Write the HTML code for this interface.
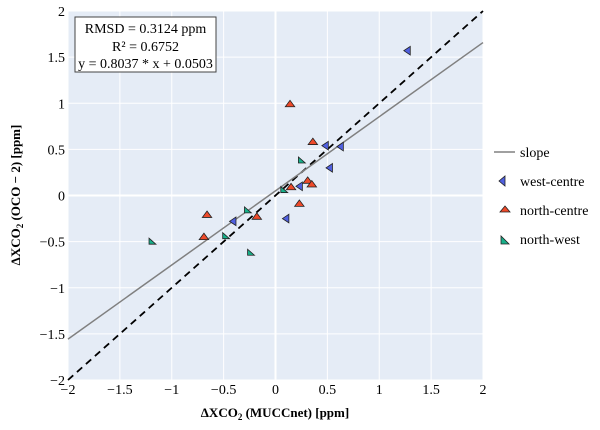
<!DOCTYPE html>
<html><head><meta charset="utf-8"><style>
body{margin:0;background:#fff}
svg{display:block}
svg text{font-family:"Liberation Serif",serif}
</style></head><body>
<svg id="c" width="600" height="430" font-family="Liberation Serif, serif">
<g id="marks"></g>
<g>
<rect x="75" y="17" width="141" height="55" fill="#fff" stroke="#444" stroke-width="1"/>
<text x="145.5" y="33" text-anchor="middle" font-size="14">RMSD = 0.3124 ppm</text>
<text x="145.5" y="51" text-anchor="middle" font-size="14">R² = 0.6752</text>
<text x="145.5" y="68" text-anchor="middle" font-size="14">y = 0.8037 * x + 0.0503</text>
</g>
<g font-size="14">
<g><line x1="494" x2="515" y1="152" y2="152" stroke="#808080" stroke-width="1.5"/><text x="520" y="157">slope</text></g>
<g><polygon points="505,176 505,186 499,181" fill="#5060e0" stroke="#222" stroke-width="0.8"/><text x="520" y="186">west-centre</text></g>
<g><polygon points="505,206 510,212 500,212" fill="#ee4a2a" stroke="#222" stroke-width="0.8"/><text x="520" y="215">north-centre</text></g>
<g><polygon points="501,236 501,244 509,244" fill="#18b08a" stroke="#222" stroke-width="0.8"/><text x="520" y="244">north-west</text></g>
</g>
<text x="275" y="417" text-anchor="middle" font-size="13" font-weight="bold">ΔXCO<tspan font-size="9" dy="3">2</tspan><tspan dy="-3"> (MUCCnet)  [ppm]</tspan></text>
<text transform="translate(20,195) rotate(-90)" text-anchor="middle" font-size="13" font-weight="bold">ΔXCO<tspan font-size="9" dy="3">2</tspan><tspan dy="-3"> (OCO − 2)  [ppm]</tspan></text>
</svg>
<script>
const xTicks=[-2,-1.5,-1,-0.5,0,0.5,1,1.5,2];
const yTicks=[-2,-1.5,-1,-0.5,0,0.5,1,1.5,2];
const tickLabels=["−2","−1.5","−1","−0.5","0","0.5","1","1.5","2"];
const westX=[1.27,0.48,0.625,0.52,0.23,0.10,-0.41];
const westY=[1.57,0.54,0.53,0.30,0.10,-0.25,-0.28];
const northCX=[0.14,0.36,0.31,0.35,0.15,0.23,-0.18,-0.66,-0.69];
const northCY=[0.99,0.58,0.16,0.12,0.09,-0.09,-0.23,-0.21,-0.45];
const northWX=[-1.19,-0.48,-0.27,-0.24,0.08,0.25];
const northWY=[-0.50,-0.44,-0.16,-0.62,0.06,0.38];
const slope=[0.8037], intercept=[0.0503];
const L=68,R=483,T=11,B=380;
const X=v=>L+(v+2)/4*(R-L), Y=v=>B-(v+2)/4*(B-T);
const ns="http://www.w3.org/2000/svg", g=document.getElementById('marks');
function mk(t,a){const e=document.createElementNS(ns,t);for(const k in a)e.setAttribute(k,a[k]);g.appendChild(e);return e;}
const bg=mk('rect',{x:L,y:T,width:R-L,height:B-T,fill:'#e5ecf6'});


xTicks.forEach((v,i)=>{const l=mk('line',{x1:X(v),x2:X(v),y1:T,y2:B,stroke:'#fff','stroke-width':v===0?2:1});


const t=mk('text',{x:X(v),y:B+14,'text-anchor':'middle','font-size':14});t.textContent=tickLabels[i];

});
yTicks.forEach((v,i)=>{const l=mk('line',{x1:L,x2:R,y1:Y(v),y2:Y(v),stroke:'#fff','stroke-width':v===0?2:1});


const t=mk('text',{x:L-3,y:Y(v)+5,'text-anchor':'end','font-size':14});t.textContent=tickLabels[i];

});
const d=mk('line',{x1:X(-2),y1:Y(-2),x2:X(2),y2:Y(2),stroke:'#000','stroke-width':1.8,'stroke-dasharray':'7,5'});


const s=mk('line',{x1:X(-2),y1:Y(-2*slope[0]+intercept[0]),x2:X(2),y2:Y(2*slope[0]+intercept[0]),stroke:'#808080','stroke-width':1.5});


function marker(cx,cy,kind,col){const r=4.3;let p;
if(kind==='left')p=[[cx+r*0.7,cy-r],[cx+r*0.7,cy+r],[cx-r*0.8,cy]];
else if(kind==='up')p=[[cx,cy-r*0.9],[cx+r*1.1,cy+r*0.6],[cx-r*1.1,cy+r*0.6]];
else p=[[cx-r*0.7,cy-r*0.8],[cx-r*0.7,cy+r*0.6],[cx+r*0.9,cy+r*0.6]];
return mk('polygon',{points:p.map(q=>q.join(',')).join(' '),fill:col,stroke:'#222','stroke-width':0.8});}
westX.forEach((v,i)=>{const m=marker(X(v),Y(westY[i]),'left','#5060e0');

});
northCX.forEach((v,i)=>{const m=marker(X(v),Y(northCY[i]),'up','#ee4a2a');

});
northWX.forEach((v,i)=>{const m=marker(X(v),Y(northWY[i]),'sw','#18b08a');

});
</script>
</body></html>
